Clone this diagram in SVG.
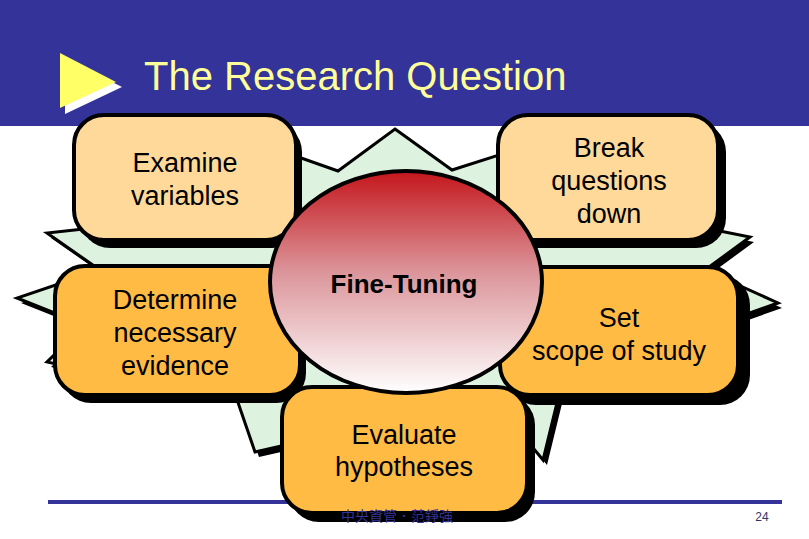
<svg xmlns="http://www.w3.org/2000/svg" width="809" height="539" viewBox="0 0 809 539">
<defs>
<linearGradient id="ballGrad" x1="0" y1="0" x2="0" y2="1">
<stop offset="0" stop-color="#C4161C"/>
<stop offset="0.45" stop-color="#DB9499"/>
<stop offset="1" stop-color="#FFFFFF"/>
</linearGradient>
</defs>
<style>
.lbl{font-family:"Liberation Sans",Arial,sans-serif;font-size:27px;fill:#000;text-anchor:middle}
.shadow{fill:#000}
.light{fill:#FFD999;stroke:#000;stroke-width:4}
.dark{fill:#FFBB44;stroke:#000;stroke-width:4}
</style>
<rect x="0" y="0" width="809" height="539" fill="#FFFFFF"/>
<g id="header">
<rect x="0" y="0" width="809" height="126" fill="#333399"/>
<polygon points="65,58 65,114 122,87" fill="#FFFFFF"/>
<polygon points="60,53 60,108 116,82" fill="#FFFF66"/>
<text x="144" y="90" font-family="'Liberation Sans',Arial,sans-serif" font-size="40" fill="#FFFF99">The Research Question</text>
</g>
<g id="footer-line">
<rect x="48" y="500" width="734" height="4" fill="#333399"/>
</g>
<g id="starburst">
<polygon transform="translate(4,5)" fill="#000" points="395,129 452,170 540,142 690,225 750,237 705,270 778,303 730,320 735,365 565,370 543,460 510,420 400,505 330,435 255,452 232,385 150,385 47,362 85,325 17,298 100,270 47,233 120,225 250,140 338,171"/>
<polygon fill="#DDF2DF" stroke="#000" stroke-width="3" stroke-linejoin="miter" points="395,129 452,170 540,142 690,225 750,237 705,270 778,303 730,320 735,365 565,370 543,460 510,420 400,505 330,435 255,452 232,385 150,385 47,362 85,325 17,298 100,270 47,233 120,225 250,140 338,171"/>
</g>
<g id="connectors"></g>
<g id="examine">
<rect class="shadow" x="80" y="122" width="222" height="126" rx="30"/>
<rect class="light" x="74" y="115" width="222" height="125" rx="30"/>
<text class="lbl" x="185" y="172">Examine</text>
<text class="lbl" x="185" y="205">variables</text>
</g>
<g id="break">
<rect class="shadow" x="504" y="122" width="222" height="126" rx="30"/>
<rect class="light" x="498" y="115" width="220" height="125" rx="30"/>
<text class="lbl" x="609" y="157">Break</text>
<text class="lbl" x="609" y="190">questions</text>
<text class="lbl" x="609" y="223">down</text>
</g>
<g id="determine">
<rect class="shadow" x="61" y="273" width="245" height="130" rx="30"/>
<rect class="dark" x="55" y="266" width="245" height="129" rx="30"/>
<text class="lbl" x="175" y="309">Determine</text>
<text class="lbl" x="175" y="342">necessary</text>
<text class="lbl" x="175" y="375">evidence</text>
</g>
<g id="setscope">
<rect class="shadow" x="506" y="275" width="244" height="130" rx="30"/>
<rect class="dark" x="500" y="267" width="238" height="128" rx="30"/>
<text class="lbl" x="619" y="327">Set</text>
<text class="lbl" x="619" y="360">scope of study</text>
</g>
<g id="evaluate">
<rect class="shadow" x="289" y="395" width="246" height="127" rx="30"/>
<rect class="dark" x="282" y="387" width="245" height="126" rx="30"/>
<text class="lbl" x="404" y="444">Evaluate</text>
<text class="lbl" x="404" y="476">hypotheses</text>
</g>
<g id="finetuning">
<ellipse cx="406" cy="282" rx="136" ry="111" fill="url(#ballGrad)" stroke="#000" stroke-width="4"/>
<text x="404" y="293" font-family="'Liberation Sans',Arial,sans-serif" font-size="26" font-weight="bold" text-anchor="middle" fill="#000">Fine-Tuning</text>
</g>
<g id="footer-text">
<text x="397" y="521" font-family="'Liberation Sans','Noto Sans CJK TC',sans-serif" font-size="14" fill="#333399" text-anchor="middle">中央資管．范錚強</text>
<text x="762" y="521" font-family="'Liberation Sans',Arial,sans-serif" font-size="12" fill="#333366" text-anchor="middle">24</text>
</g>
</svg>
